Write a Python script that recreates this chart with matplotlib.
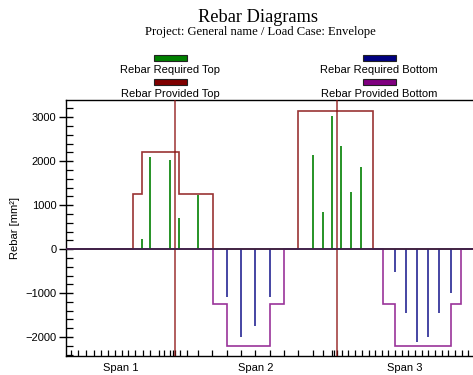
import matplotlib
matplotlib.use("Agg")
import matplotlib.pyplot as plt
from matplotlib.patches import Rectangle

# ---------------- data ----------------
span_labels = ["Span 1", "Span 2", "Span 3"]
span_centers = [2.0, 7.0, 12.5]
supports = [4.0, 10.0]

# Rebar required top (green)
top_req_x = [2.79, 3.11, 3.83, 4.17, 4.88, 9.09, 9.46, 9.82, 10.15, 10.49, 10.86]
top_req_v = [220, 2100, 2030, 710, 1220, 2140, 840, 3020, 2340, 1290, 1870]

# Rebar required bottom (navy)
bot_req_x = [5.93, 6.45, 6.98, 7.51, 12.11, 12.52, 12.94, 13.35, 13.76, 14.18]
bot_req_v = [-1080, -1990, -1750, -1080, -520, -1450, -2110, -1990, -1450, -990]

# Rebar provided top (dark red), step outline
top_prov_edges = [0.0, 2.46, 2.79, 4.17, 5.41, 8.56, 11.30, 15.0]
top_prov_v = [0, 1250, 2200, 1250, 0, 3130, 0]

# Rebar provided bottom (purple), step outline
bot_prov_edges = [0.0, 5.41, 5.93, 7.51, 8.04, 11.68, 12.11, 14.18, 14.55, 15.0]
bot_prov_v = [0, -1250, -2200, -1250, 0, -1250, -2200, -1250, 0]

# calculation points shown as ticks on the x axis
calc_ticks = [0.18, 0.46, 0.74, 1.02, 1.29, 1.56, 1.82, 2.06, 2.30, 2.56, 2.82,
              3.10, 3.44, 3.60, 3.83, 3.93, 4.02, 4.20, 4.45, 4.88,
              5.39, 5.92, 6.45, 6.98, 7.51, 8.04, 8.56, 9.09, 9.46, 9.79,
              9.88, 9.98, 10.17, 10.41, 10.66, 10.90, 11.15, 11.39, 11.64,
              11.88, 12.13, 12.37, 12.62, 12.86, 13.11, 13.35, 13.60, 13.84,
              14.09, 14.33, 14.58, 14.82]

# ---------------- figure ----------------
W, H = 473, 375
fig = plt.figure(figsize=(W / 100, H / 100), dpi=100)
ax = fig.add_axes([66 / W, 1 - 356 / H, 1 - 66 / W, (356 - 100) / H])

sans = "Liberation Sans"
serif = "Liberation Serif"

# support lines
for s in supports:
    ax.axvline(s, color="#8b1010", lw=1.1, alpha=0.85, zorder=5)

# provided steps
ax.stairs(top_prov_v, top_prov_edges, baseline=None, color="#800000", lw=1.2, alpha=0.8, zorder=3)
ax.stairs(bot_prov_v, bot_prov_edges, baseline=None, color="#800080", lw=1.2, alpha=0.8, zorder=3)

# required lines
ax.vlines(top_req_x, 0, top_req_v, color="#008000", lw=1.4, alpha=0.85, zorder=4)
ax.vlines(bot_req_x, 0, bot_req_v, color="#000080", lw=1.2, alpha=0.85, zorder=4)

ax.axhline(0, color="#3c2446", lw=1.3, zorder=6)

ax.set_xlim(0, 15.0)
ax.set_ylim(-2430, 3390)

# y axis
ax.set_yticks([-2000, -1000, 0, 1000, 2000, 3000])
ax.set_yticks(list(range(-2400, 3400, 200)), minor=True)
ax.tick_params(axis="y", which="major", direction="inout", length=10, width=1.0,
               labelsize=8, pad=2)
ax.tick_params(axis="y", which="minor", direction="in", length=5, width=0.9)
for lab in ax.get_yticklabels():
    lab.set_fontfamily(sans)
ax.set_ylabel("Rebar [mm²]", fontsize=8, fontfamily=sans, labelpad=4)

# x axis
ax.set_xticks(span_centers)
ax.set_xticklabels(span_labels, fontsize=8, fontfamily=sans)
ax.set_xticks(calc_ticks, minor=True)
ax.tick_params(axis="x", which="major", length=0, pad=5)
ax.tick_params(axis="x", which="minor", direction="in", length=4, width=0.9)

ax.spines["right"].set_visible(False)
for sp in ("left", "bottom", "top"):
    ax.spines[sp].set_linewidth(1.0)
    ax.spines[sp].set_color("black")

# titles
fig.text(258 / W, 1 - 17 / H, "Rebar Diagrams", ha="center", va="center",
         fontsize=13.2, fontfamily=serif)
fig.text(260 / W, 1 - 31.5 / H, "Project: General name / Load Case: Envelope",
         ha="center", va="center", fontsize=9.1, fontfamily=serif)

# legend
leg = [
    (170, 58, "#008000", 70, "Rebar Required Top"),
    (170, 82, "#800000", 94, "Rebar Provided Top"),
    (379, 58, "#000080", 70, "Rebar Required Bottom"),
    (379, 82, "#800080", 94, "Rebar Provided Bottom"),
]
for cx, py, col, ty, label in leg:
    fig.add_artist(Rectangle(((cx - 16.5) / W, 1 - (py + 3) / H), 33 / W, 6 / H,
                             transform=fig.transFigure, facecolor=col,
                             edgecolor="#222222", lw=0.8))
    fig.text(cx / W, 1 - ty / H, label, ha="center", va="center",
             fontsize=8, fontfamily=sans)

fig.savefig("out.png", dpi=100)
